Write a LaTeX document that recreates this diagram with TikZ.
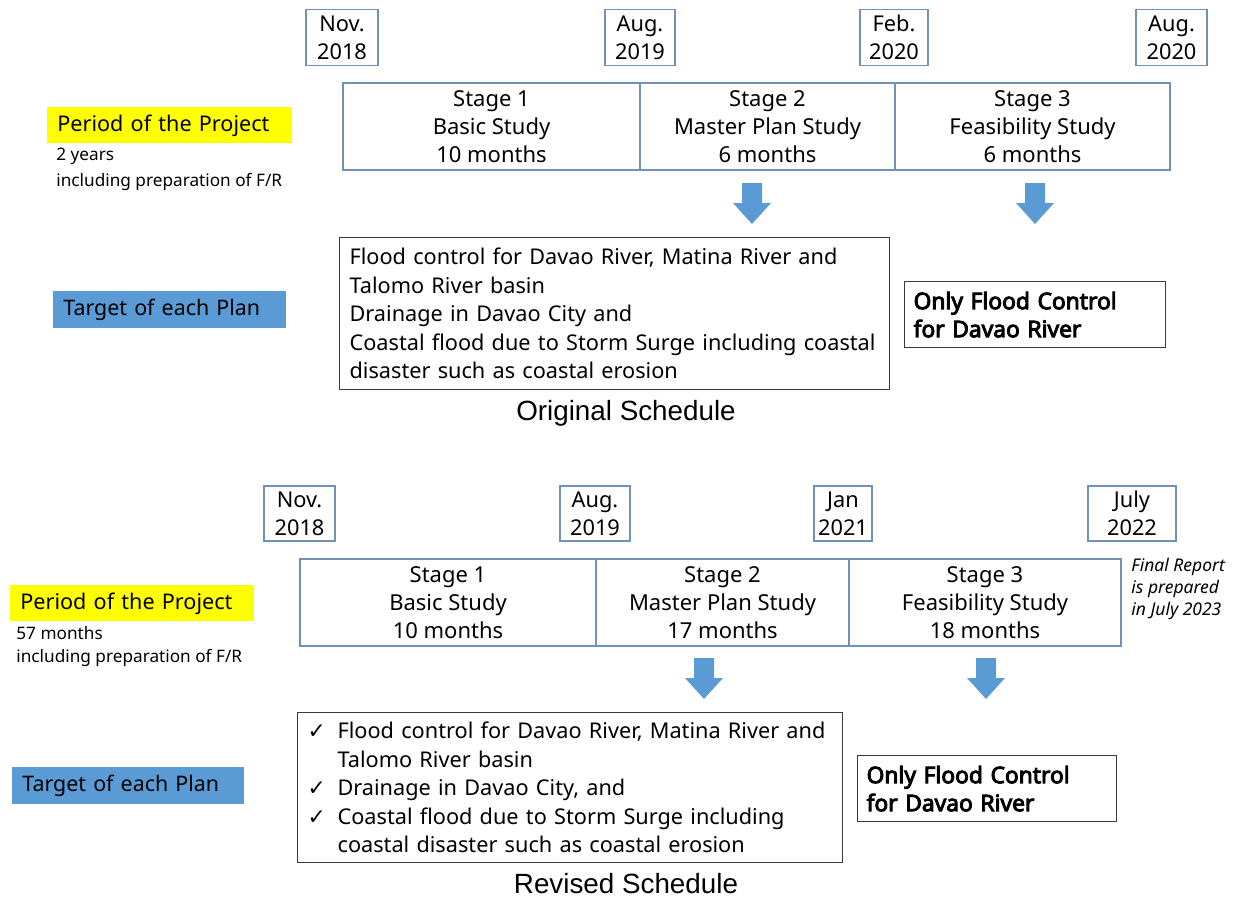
\documentclass[tikz,border=0pt]{standalone}
\usepackage{fontspec}
\setmainfont{Noto Sans}
\newfontfamily\nbold{Noto Sans}[FakeBold=4]
\newfontfamily\arialf{Liberation Sans}
\newfontfamily\djv{DejaVu Sans}
\definecolor{boxblue}{HTML}{7191B9}
\definecolor{arrowblue}{HTML}{5B9BD5}
\definecolor{darkline}{HTML}{3A3A3A}
\definecolor{hiyellow}{HTML}{FFFF00}
\newcommand{\ck}{\makebox[15pt][l]{\djv\char"2713}}
\newcommand{\ind}{\hspace*{15pt}}
\tikzset{
  datebox/.style={draw=boxblue, line width=0.7pt, align=center, inner sep=0pt,
    minimum height=28pt, font=\fontsize{10.9}{14}\selectfont},
  stagebox/.style={draw=boxblue, line width=0.7pt, align=center, inner sep=0pt,
    minimum height=43.5pt, font=\fontsize{11}{14}\selectfont},
  period/.style={fill=hiyellow, inner xsep=5pt, inner ysep=0pt, minimum height=18pt,
    align=left, anchor=north west, font=\fontsize{10.8}{14}\selectfont},
  target/.style={fill=arrowblue, inner xsep=5pt, inner ysep=0pt, minimum height=18.5pt,
    align=left, anchor=north west, font=\fontsize{10.7}{14}\selectfont},
  note/.style={align=left, anchor=north west, inner sep=0pt, font=\fontsize{8.6}{13}\selectfont},
  planbox/.style={draw=darkline, line width=0.6pt, anchor=north west, inner xsep=5pt,
    inner ysep=0pt, align=left, font=\fontsize{10.85}{14.25}\selectfont},
  onlybox/.style={draw=darkline, line width=0.6pt, anchor=north west, inner xsep=4.5pt,
    inner ysep=0pt, align=left, font=\nbold\fontsize{11.4}{14}\selectfont},
  caption/.style={font=\arialf\fontsize{13.9}{16}\selectfont, inner sep=0pt},
  blockarrow/.style={fill=arrowblue, draw=none}
}
\newcommand{\downarrowshape}[2]{%
  \fill[blockarrow] (#1-10,#2) -- (#1+10,#2) -- (#1+10,#2+20) -- (#1+19,#2+20)
    -- (#1,#2+41) -- (#1-19,#2+20) -- (#1-10,#2+20) -- cycle;}
\begin{document}
\begin{tikzpicture}[x=0.5pt,y=-0.5pt]
\useasboundingbox (0,0) rectangle (1234,899);

% ===== Original schedule =====
\node[datebox, minimum width=36pt] (od1) at (342,37.5) {Nov.\\2018};
\node[datebox, minimum width=35pt] (od2) at (640,37.5) {Aug.\\2019};
\node[datebox, minimum width=34pt] (od3) at (894,37.5) {Feb.\\2020};
\node[datebox, minimum width=35.5pt] (od4) at (1171.5,37.5) {Aug.\\2020};

\node[stagebox, minimum width=148.5pt] (os1) at (491.5,126.5) {Stage 1\\Basic Study\\10 months};
\node[stagebox, minimum width=127.5pt] (os2) at (767.5,126.5) {Stage 2\\Master Plan Study\\6 months};
\node[stagebox, minimum width=137.5pt] (os3) at (1032.5,126.5) {Stage 3\\Feasibility Study\\6 months};

\node[period, minimum width=122.5pt, text width=112.5pt] (op) at (47,107) {Period of the Project};
\node[note] (opn) at (56,148) {2 years\\including preparation of F/R};

\downarrowshape{752}{183}
\downarrowshape{1035}{183}

\node[target, minimum width=116.5pt, text width=106.5pt] (ot) at (53,291) {Target of each Plan};

\node[planbox, minimum width=275pt, minimum height=76pt, text width=265pt] (obig) at (339,237)
  {Flood control for Davao River, Matina River and\\Talomo River basin\\Drainage in Davao City and\\Coastal flood due to Storm Surge including coastal\\disaster such as coastal erosion};

\node[onlybox, minimum width=130.5pt, minimum height=33pt, text width=121.5pt] (oonly) at (904,281)
  {Only Flood Control\\for Davao River};

\node[caption] (ocap) at (626,413) {Original Schedule};

% ===== Revised schedule =====
\node[datebox, minimum width=35.5pt, minimum height=27.5pt] (rd1) at (299.5,513.5) {Nov.\\2018};
\node[datebox, minimum width=35pt, minimum height=27.5pt] (rd2) at (595,513.5) {Aug.\\2019};
\node[datebox, minimum width=29pt, minimum height=27.5pt] (rd3) at (843,513.5) {Jan\\2021};
\node[datebox, minimum width=44pt, minimum height=27.5pt] (rd4) at (1132,513.5) {July\\2022};

\node[stagebox, minimum width=148pt] (rs1) at (448,602.5) {Stage 1\\Basic Study\\10 months};
\node[stagebox, minimum width=126.5pt] (rs2) at (722.5,602.5) {Stage 2\\Master Plan Study\\17 months};
\node[stagebox, minimum width=136pt] (rs3) at (985,602.5) {Stage 3\\Feasibility Study\\18 months};

\node[note, font=\itshape\fontsize{8.75}{11}\selectfont] (rfin) at (1131,558) {Final Report\\is prepared\\in July 2023};

\node[period, minimum width=120pt, text width=112pt] (rp) at (10,585) {Period of the Project};
\node[note, font=\fontsize{8.6}{11.5}\selectfont] (rpn) at (16,626) {57 months\\including preparation of F/R};

\downarrowshape{704}{658}
\downarrowshape{986}{658}

\node[target, minimum width=116pt, text width=106pt] (rt) at (12,767) {Target of each Plan};

\node[planbox, minimum width=272.5pt, minimum height=75pt, text width=262.5pt] (rbig) at (297,712)
  {\ck Flood control for Davao River, Matina River and\\\ind Talomo River basin\\\ck Drainage in Davao City, and\\\ck Coastal flood due to Storm Surge including\\\ind coastal disaster such as coastal erosion};

\node[onlybox, minimum width=129.5pt, minimum height=33pt, text width=120.5pt] (ronly) at (857,755)
  {Only Flood Control\\for Davao River};

\node[caption] (rcap) at (626,884) {Revised Schedule};
\end{tikzpicture}
\end{document}
